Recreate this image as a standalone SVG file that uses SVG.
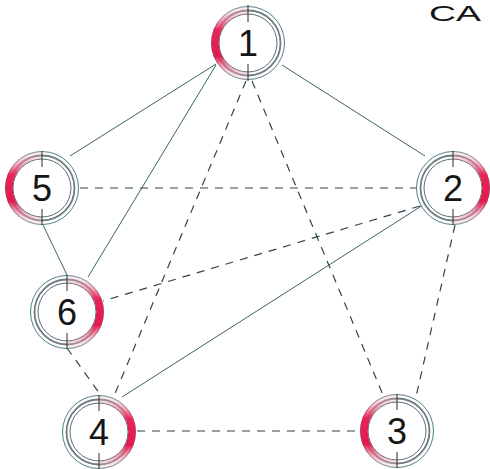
<svg xmlns="http://www.w3.org/2000/svg" width="490" height="469" viewBox="0 0 490 469">
<style>
.solid{stroke:#3a636a;stroke-width:1;fill:none}
.dash{stroke:#2f454b;stroke-width:1.2;fill:none;stroke-dasharray:8 7}
.outer{fill:#fff;stroke:#3d6f76;stroke-width:0.9}
.mid{fill:none;stroke:#6f7c80;stroke-width:1.8}
.inner{fill:none;stroke:#2f4a50;stroke-width:0.8}
.tick{stroke:#2a2a2a;stroke-width:1}
.arc{fill:none;stroke:url(#red);stroke-width:7.5}
.num{font-family:"Liberation Sans",Arial,sans-serif;font-size:36px;fill:#151515;text-anchor:middle}
.title{font-family:"Liberation Sans",Arial,sans-serif;font-size:22px;fill:#151515}
</style>
<defs>
<linearGradient id="red" x1="0" y1="0" x2="0" y2="1">
<stop offset="0" stop-color="#f3b7c6" stop-opacity="0.3"/>
<stop offset="0.3" stop-color="#e62656"/>
<stop offset="0.7" stop-color="#e01a4c"/>
<stop offset="1" stop-color="#f3b7c6" stop-opacity="0.3"/>
</linearGradient>
</defs>
<text class="title" x="429" y="21" textLength="52" lengthAdjust="spacingAndGlyphs">CA</text>
<g id="connectors">
<line class="solid" x1="216" y1="64" x2="70" y2="156"/>
<line class="solid" x1="282" y1="65" x2="425" y2="156"/>
<line class="solid" x1="216" y1="65" x2="88" y2="277"/>
<line class="solid" x1="43" y1="225" x2="67" y2="275"/>
<line class="solid" x1="423" y1="205" x2="122" y2="397"/>
<line class="dash" x1="80" y1="188" x2="418" y2="188"/>
<line class="dash" x1="246" y1="81" x2="114" y2="396"/>
<line class="dash" x1="252" y1="81" x2="383" y2="395"/>
<line class="dash" x1="420" y1="206" x2="103" y2="301"/>
<line class="dash" x1="455" y1="225" x2="416" y2="397"/>
<line class="dash" x1="67" y1="348" x2="100" y2="394"/>
<line class="dash" x1="137" y1="431" x2="361" y2="431"/>
</g>
<g id="node1" transform="translate(248,43)">
<circle class="outer" r="36.5"/><circle class="mid" r="32.5"/><circle class="inner" r="29"/>
<path class="arc" d="M0,-33 A33,33 0 0 0 0,33"/>
<line class="tick" x1="0" y1="-38" x2="0" y2="-21"/><line class="tick" x1="0" y1="21" x2="0" y2="38"/>
<text class="num" x="0" y="13">1</text>
</g>
<g id="node2" transform="translate(453,188)">
<circle class="outer" r="36.5"/><circle class="mid" r="32.5"/><circle class="inner" r="29"/>
<path class="arc" d="M0,-33 A33,33 0 0 1 0,33"/>
<line class="tick" x1="0" y1="-37" x2="0" y2="-21"/><line class="tick" x1="0" y1="21" x2="0" y2="37"/>
<text class="num" x="0" y="13">2</text>
</g>
<g id="node3" transform="translate(397,431)">
<circle class="outer" r="36.5"/><circle class="mid" r="32.5"/><circle class="inner" r="29"/>
<path class="arc" d="M0,-33 A33,33 0 0 0 0,33"/>
<line class="tick" x1="0" y1="-37" x2="0" y2="-21"/><line class="tick" x1="0" y1="21" x2="0" y2="37"/>
<text class="num" x="0" y="13">3</text>
</g>
<g id="node4" transform="translate(99,432)">
<circle class="outer" r="36.5"/><circle class="mid" r="32.5"/><circle class="inner" r="29"/>
<path class="arc" d="M0,-33 A33,33 0 0 1 0,33"/>
<line class="tick" x1="0" y1="-37" x2="0" y2="-21"/><line class="tick" x1="0" y1="21" x2="0" y2="37"/>
<text class="num" x="0" y="13">4</text>
</g>
<g id="node5" transform="translate(42,188)">
<circle class="outer" r="36.5"/><circle class="mid" r="32.5"/><circle class="inner" r="29"/>
<path class="arc" d="M0,-33 A33,33 0 0 0 0,33"/>
<line class="tick" x1="0" y1="-37" x2="0" y2="-21"/><line class="tick" x1="0" y1="21" x2="0" y2="37"/>
<text class="num" x="0" y="13">5</text>
</g>
<g id="node6" transform="translate(67,312)">
<circle class="outer" r="36.5"/><circle class="mid" r="32.5"/><circle class="inner" r="29"/>
<path class="arc" d="M0,-33 A33,33 0 0 1 0,33"/>
<line class="tick" x1="0" y1="-37" x2="0" y2="-21"/><line class="tick" x1="0" y1="21" x2="0" y2="37"/>
<text class="num" x="0" y="13">6</text>
</g>
</svg>
